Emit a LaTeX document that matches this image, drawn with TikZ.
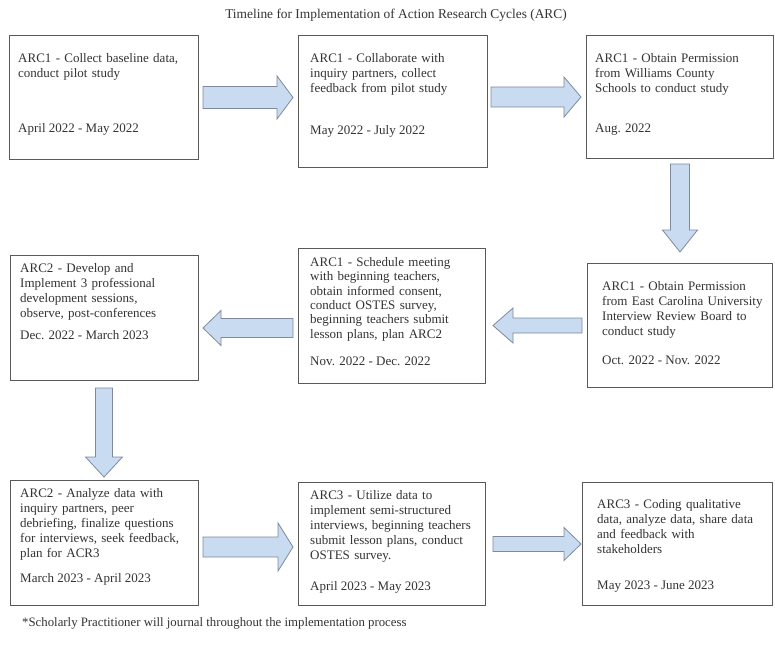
\documentclass[tikz,border=0pt]{standalone}
\usepackage{fontspec}
\setmainfont{Liberation Serif}
\usetikzlibrary{calc}

\definecolor{arrowfill}{HTML}{C9DBF0}
\definecolor{arrowline}{HTML}{7F8A9C}
\definecolor{boxline}{HTML}{5A5A5A}
\definecolor{inktext}{HTML}{333333}

\tikzset{
  blk shaft/.store in=\blkshaft, blk head/.store in=\blkhead, blk len/.store in=\blklen,
  blk shaft=9.5pt, blk head=19pt, blk len=18pt,
  stepbox/.style={draw=boxline, line width=1pt, rectangle, inner sep=0pt, anchor=north west},
  body/.style={text=inktext, font=\fontsize{13}{15}\selectfont, inner sep=0pt,
    anchor=north west, align=left, text width=182pt},
  datetext/.style={text=inktext, font=\fontsize{13}{15}\selectfont, inner sep=0pt, anchor=base west},
  heading/.style={text=inktext, font=\fontsize{13.4}{15}\selectfont, inner sep=0pt},
  footer/.style={text=inktext, font=\fontsize{12.8}{15}\selectfont, inner sep=0pt},
  % wide block arrow drawn between two points
  blockto/.style={draw=arrowline, fill=arrowfill, line width=0.8pt, line join=miter,
    to path={
      ($(\tikztostart)!\blkshaft!90:(\tikztotarget)$)
      -- ($($(\tikztotarget)!\blklen!(\tikztostart)$)!\blkshaft!90:(\tikztotarget)$)
      -- ($($(\tikztotarget)!\blklen!(\tikztostart)$)!\blkhead!90:(\tikztotarget)$)
      -- (\tikztotarget)
      -- ($($(\tikztotarget)!\blklen!(\tikztostart)$)!\blkhead!-90:(\tikztotarget)$)
      -- ($($(\tikztotarget)!\blklen!(\tikztostart)$)!\blkshaft!-90:(\tikztotarget)$)
      -- ($(\tikztostart)!\blkshaft!-90:(\tikztotarget)$)
      -- cycle}}
}

\begin{document}
\begin{tikzpicture}[x=1pt, y=-1pt]
\fill[white] (0,0) rectangle (775,651);
\useasboundingbox (0,0) rectangle (775,651);

\node[heading] (title) at (396,15) {Timeline for Implementation of Action Research Cycles (ARC)};

% boxes
\node[stepbox, minimum width=189pt, minimum height=124pt] (b1) at (9,35) {};
\node[stepbox, minimum width=189pt, minimum height=132pt] (b2) at (298,35) {};
\node[stepbox, minimum width=187pt, minimum height=123pt] (b3) at (586,35) {};
\node[stepbox, minimum width=185pt, minimum height=124pt] (b4) at (587,263) {};
\node[stepbox, minimum width=187pt, minimum height=135pt] (b5) at (298,248) {};
\node[stepbox, minimum width=188pt, minimum height=125pt] (b6) at (10,255) {};
\node[stepbox, minimum width=188pt, minimum height=125pt] (b7) at (10,480) {};
\node[stepbox, minimum width=187pt, minimum height=123pt] (b8) at (298,482) {};
\node[stepbox, minimum width=190pt, minimum height=123pt] (b9) at (582,482) {};

% box texts
\node[body] (t1) at ($(b1.north west)+(9,18)$) {ARC1 - Collect baseline data,\\conduct pilot study};
\node[datetext] (d1) at (18,132) {April 2022 - May 2022};

\node[body] (t2) at ($(b2.north west)+(12,18)$) {ARC1 - Collaborate with\\inquiry partners, collect\\feedback from pilot study};
\node[datetext] (d2) at (310,134) {May 2022 - July 2022};

\node[body] (t3) at ($(b3.north west)+(9,18)$) {ARC1 - Obtain Permission\\from Williams County\\Schools to conduct study};
\node[datetext] (d3) at (595,132) {Aug. 2022};

\node[body] (t4) at ($(b4.north west)+(15,18)$) {ARC1 - Obtain Permission\\from East Carolina University\\Interview Review Board to\\conduct study};
\node[datetext] (d4) at (602,364) {Oct. 2022 - Nov. 2022};

\node[body, font=\fontsize{13}{14.4}\selectfont] (t5) at ($(b5.north west)+(12,9)$) {ARC1 - Schedule meeting\\with beginning teachers,\\obtain informed consent,\\conduct OSTES survey,\\beginning teachers submit\\lesson plans, plan ARC2};
\node[datetext] (d5) at (310,365) {Nov. 2022 - Dec. 2022};

\node[body] (t6) at ($(b6.north west)+(10,8)$) {ARC2 - Develop and\\Implement 3 professional\\development sessions,\\observe, post-conferences};
\node[datetext] (d6) at (20,339) {Dec. 2022 - March 2023};

\node[body] (t7) at ($(b7.north west)+(10,8)$) {ARC2 - Analyze data with\\inquiry partners, peer\\debriefing, finalize questions\\for interviews, seek feedback,\\plan for ACR3};
\node[datetext] (d7) at (20,582) {March 2023 - April 2023};

\node[body] (t8) at ($(b8.north west)+(12,8)$) {ARC3 - Utilize data to\\implement semi-structured\\interviews, beginning teachers\\submit lesson plans, conduct\\OSTES survey.};
\node[datetext] (d8) at (310,590) {April 2023 - May 2023};

\node[body] (t9) at ($(b9.north west)+(15,17)$) {ARC3 - Coding qualitative\\data, analyze data, share data\\and feedback with\\stakeholders};
\node[datetext] (d9) at (597,589) {May 2023 - June 2023};

% block arrows between steps
\draw[blockto, blk shaft=11pt, blk head=21.5pt, blk len=16pt] ($(b1.east)+(4,0)$) to ($(b1.east -| b2.west)+(-5,0)$);
\draw[blockto, blk shaft=10pt, blk head=20pt, blk len=17pt] ($(b2.east |- b3.west)+(3,0)$) to ($(b3.west)+(-5,0)$);
\draw[blockto, blk shaft=9.5pt, blk head=17.5pt, blk len=22pt] ($(b3.south)+(0,5)$) to ($(b4.north)+(0,-11)$);
\draw[blockto, blk shaft=7.5pt, blk head=17.5pt, blk len=20pt] ($(b4.west)+(-5,0)$) to ($(b4.west -| b5.east)+(7,0)$);
\draw[blockto, blk shaft=9.5pt, blk head=17.5pt, blk len=18pt] ($(b5.west |- b6.east)+(-5,10)$) to ($(b6.east)+(4,10)$);
\draw[blockto, blk shaft=8.5pt, blk head=18.5pt, blk len=20pt] ($(b6.south)+(-0.5,7)$) to ($(b7.north)+(-0.5,-3)$);
\draw[blockto, blk shaft=10pt, blk head=24pt, blk len=15pt] ($(b7.east)+(4,4)$) to ($(b7.east -| b8.west)+(-5,4)$);
\draw[blockto, blk shaft=7.5pt, blk head=16.5pt, blk len=17pt] ($(b8.east)+(7,0)$) to ($(b9.west)+(-1,0)$);

\node[footer, anchor=west] (note) at (22,623) {*Scholarly Practitioner will journal throughout the implementation process};
\end{tikzpicture}
\end{document}
